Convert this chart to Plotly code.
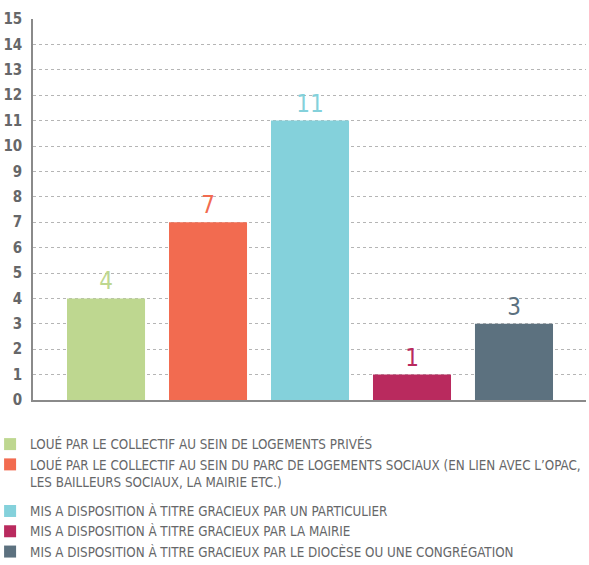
import plotly.graph_objects as go

categories = [
    "LOUÉ PAR LE COLLECTIF AU SEIN DE LOGEMENTS PRIVÉS",
    "LOUÉ PAR LE COLLECTIF AU SEIN DU PARC DE LOGEMENTS SOCIAUX (EN LIEN AVEC L’OPAC,<br>LES BAILLEURS SOCIAUX, LA MAIRIE ETC.)",
    "MIS A DISPOSITION À TITRE GRACIEUX PAR UN PARTICULIER",
    "MIS A DISPOSITION À TITRE GRACIEUX PAR LA MAIRIE",
    "MIS A DISPOSITION À TITRE GRACIEUX PAR LE DIOCÈSE OU UNE CONGRÉGATION",
]
values = [4, 7, 11, 1, 3]
colors = ["#bed790", "#f26b50", "#84d1db", "#b92a5e", "#5c717f"]
positions = [0, 1, 2, 3, 4]
legend_groups = ["a", "a", "b", "b", "b"]
tick_vals = list(range(0, 16))

FONT = "DejaVu Sans Condensed, Roboto Condensed, Roboto, sans-serif"
GRAY = "#666769"

fig = go.Figure()
for cat, v, c, p, g in zip(categories, values, colors, positions, legend_groups):
    fig.add_trace(go.Bar(
        x=[p], y=[v], name=cat, legendgroup=g,
        marker=dict(color=c, line=dict(width=0)),
        width=0.765, text=[str(v)], textposition="outside",
        textfont=dict(family=FONT, size=24, color=c),
        cliponaxis=False,
    ))

fig.update_layout(
    width=589, height=565,
    margin=dict(l=33, r=3, t=19, b=165, autoexpand=False),
    plot_bgcolor="white", paper_bgcolor="white",
    barmode="overlay",
    showlegend=True,
    font=dict(family=FONT, color=GRAY),
    xaxis=dict(range=[-0.716, 4.706], showticklabels=False, showgrid=False,
               zeroline=False, showline=True, linecolor="#8a8a8a", linewidth=1.5,
               ticks="", fixedrange=True, automargin=False),
    yaxis=dict(range=[0, 15], tickvals=tick_vals, showgrid=True,
               gridcolor="#b5b5b5", griddash="dot", gridwidth=1,
               zeroline=False, showline=True, linecolor="#8a8a8a", linewidth=1.5,
               tickfont=dict(family=FONT, size=15, color=GRAY, weight="bold"),
               ticks="", ticklabelstandoff=6, automargin=False),
    legend=dict(x=-0.0776, y=-0.076, xanchor="left", yanchor="top",
                font=dict(family=FONT, size=13.3, color=GRAY),
                traceorder="grouped", tracegroupgap=9, itemwidth=30,
                valign="top", bgcolor="rgba(0,0,0,0)"),
)

fig.write_html("out.html", config={"displayModeBar": False},
               post_script="document.body.style.margin='0px';document.body.style.overflow='hidden';")
